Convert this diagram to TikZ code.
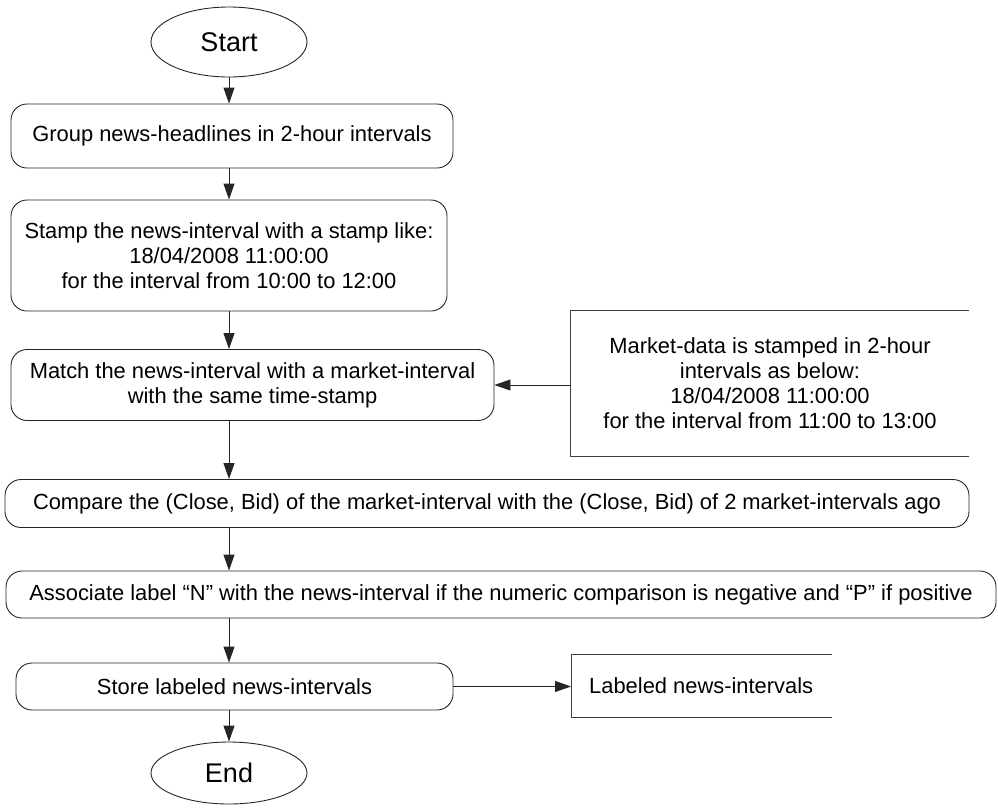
\documentclass[tikz,border=0pt]{standalone}
\usepackage{fontspec}
\setmainfont{Liberation Sans}
\usetikzlibrary{shapes.geometric,arrows.meta}
\tikzset{
  proc/.style={draw=black!85, line width=0.9pt, rounded corners=16pt, align=center, inner sep=0pt, font=\fontsize{21.9}{25}\selectfont},
  term/.style={draw=black!85, line width=0.9pt, ellipse, inner sep=0pt, font=\fontsize{27}{30}\selectfont},
  note/.style={inner sep=0pt, align=center, font=\fontsize{21.9}{25}\selectfont},
  conn/.style={draw=black!85, line width=0.9pt, -{Triangle[length=16pt,width=11pt]}},
  open/.style={draw=black!75, line width=0.9pt}
}
\begin{document}
\begin{tikzpicture}[x=1pt,y=-1pt]
\useasboundingbox (0,0) rectangle (998,807);
\node[term, minimum width=156pt, minimum height=70pt] (start) at (229,42) {Start};
\node[proc, minimum width=442pt, minimum height=64pt] (group) at (232,136) {Group news-headlines in 2-hour intervals};
\node[proc, minimum width=436pt, minimum height=111pt] (stamp) at (229,255.5) {Stamp the news-interval with a stamp like:\\18/04/2008 11:00:00\\for the interval from 10:00 to 12:00};
\node[proc, minimum width=483pt, minimum height=71pt] (match) at (252.5,385) {Match the news-interval with a market-interval\\with the same time-stamp};
\node[note, minimum width=398pt, minimum height=145pt] (mkt) at (770,383.5) {Market-data is stamped in 2-hour\\intervals as below:\\18/04/2008 11:00:00\\for the interval from 11:00 to 13:00};
\draw[open] (mkt.north east) -- (mkt.north west) -- (mkt.south west) -- (mkt.south east);
\node[proc, minimum width=964pt, minimum height=48pt] (cmp) at (487,503.5) {Compare the (Close, Bid) of the market-interval with the (Close, Bid) of 2 market-intervals ago};
\node[proc, minimum width=990pt, minimum height=47pt] (assoc) at (501,594.5) {Associate label “N” with the news-interval if the numeric comparison is negative and “P” if positive};
\node[proc, minimum width=437pt, minimum height=47pt] (store) at (234.5,686.5) {Store labeled news-intervals};
\node[note, minimum width=261pt, minimum height=62pt, anchor=west] (lab) at (571,686) {};
\node[note, anchor=west] (labtext) at (589,686) {Labeled news-intervals};
\draw[open] (lab.north east) -- (lab.north west) -- (lab.south west) -- (lab.south east);
\node[term, minimum width=156pt, minimum height=62pt] (end) at (229,773) {End};
\draw[conn] (start.south) -- (start.south |- group.north);
\draw[conn] (start.south |- group.south) -- (start.south |- stamp.north);
\draw[conn] (start.south |- stamp.south) -- (start.south |- match.north);
\draw[conn] (mkt.west |- match.east) -- (match.east);
\draw[conn] (start.south |- match.south) -- (start.south |- cmp.north);
\draw[conn] (start.south |- cmp.south) -- (start.south |- assoc.north);
\draw[conn] (start.south |- assoc.south) -- (start.south |- store.north);
\draw[conn] (store.east) -- (store.east -| lab.west);
\draw[conn] (start.south |- store.south) -- (end.north);
\end{tikzpicture}
\end{document}
